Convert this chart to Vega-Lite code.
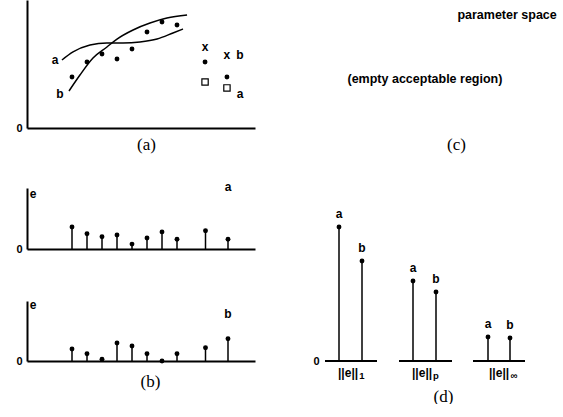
{
  "$schema": "https://vega.github.io/schema/vega-lite/v6.json",
  "background": "white",
  "padding": {"left": 15, "top": 0, "right": 0, "bottom": 0},
  "columns": 2,
  "bounds": "flush",
  "spacing": {"row": 52, "column": 70},
  "datasets": {
    "curves": [
      {"curve": "a", "t": 2.33, "v": 5.31}, {"curve": "a", "t": 3.07, "v": 5.94}, {"curve": "a", "t": 4.2, "v": 6.48},
      {"curve": "a", "t": 5.33, "v": 6.64}, {"curve": "a", "t": 6.4, "v": 6.64}, {"curve": "a", "t": 7.53, "v": 6.72},
      {"curve": "a", "t": 8.67, "v": 6.95}, {"curve": "a", "t": 9.73, "v": 7.42}, {"curve": "a", "t": 10.4, "v": 7.73},
      {"curve": "b", "t": 2.8, "v": 2.89}, {"curve": "b", "t": 3.53, "v": 4.14}, {"curve": "b", "t": 4.4, "v": 5.47},
      {"curve": "b", "t": 5.33, "v": 6.33}, {"curve": "b", "t": 6.0, "v": 6.95}, {"curve": "b", "t": 7.07, "v": 7.66},
      {"curve": "b", "t": 8.2, "v": 8.2}, {"curve": "b", "t": 9.33, "v": 8.59}, {"curve": "b", "t": 10.67, "v": 8.83}
    ],
    "fit": [
      {"t": 3, "v": 3.98}, {"t": 4, "v": 5.16}, {"t": 5, "v": 5.78}, {"t": 6, "v": 5.39},
      {"t": 7, "v": 6.17}, {"t": 8, "v": 7.5}, {"t": 9, "v": 8.28}, {"t": 10, "v": 8.05}
    ],
    "dotsA": [{"t": 11.87, "v": 5.16}, {"t": 13.33, "v": 3.98}],
    "squaresA": [{"t": 11.87, "v": 3.59}, {"t": 13.33, "v": 3.13}],
    "labelsA": [
      {"t": 1.87, "v": 5.31, "label": "a"}, {"t": 2.2, "v": 2.66, "label": "b"},
      {"t": 11.87, "v": 6.33, "label": "x"}, {"t": 13.33, "v": 5.7, "label": "x"},
      {"t": 14.2, "v": 5.7, "label": "b"}, {"t": 14.2, "v": 2.66, "label": "a"}
    ],
    "notesC": [
      {"x": 0.765, "y": 0.89, "label": "parameter space"},
      {"x": 0.42, "y": 0.419, "label": "(empty acceptable region)"}
    ],
    "errA": [
      {"t": 3, "e": 3.6}, {"t": 4, "e": 2.5}, {"t": 5, "e": 2.0}, {"t": 6, "e": 2.3}, {"t": 7, "e": 0.8},
      {"t": 8, "e": 1.8}, {"t": 9, "e": 2.8}, {"t": 10, "e": 1.6}, {"t": 11.9, "e": 3.0}, {"t": 13.4, "e": 1.6}
    ],
    "errB": [
      {"t": 3, "e": 2.0}, {"t": 4, "e": 1.2}, {"t": 5, "e": 0.3}, {"t": 6, "e": 3.0}, {"t": 7, "e": 2.5},
      {"t": 8, "e": 1.2}, {"t": 9, "e": 0.0}, {"t": 10, "e": 1.2}, {"t": 11.9, "e": 2.2}, {"t": 13.4, "e": 3.7}
    ],
    "labelsB1": [{"t": 0.4, "e": 9.0, "label": "e"}, {"t": 13.4, "e": 10.2, "label": "a"}],
    "labelsB2": [{"t": 0.4, "e": 9.3, "label": "e"}, {"t": 13.4, "e": 7.8, "label": "b"}],
    "norms": [
      {"x": 0.7, "n": 1.34, "label": "a"}, {"x": 1.85, "n": 1.0, "label": "b"},
      {"x": 4.4, "n": 0.8, "label": "a"}, {"x": 5.55, "n": 0.69, "label": "b"},
      {"x": 8.15, "n": 0.24, "label": "a"}, {"x": 9.25, "n": 0.23, "label": "b"}
    ],
    "normAxes": [{"x": 0, "x2": 2.6}, {"x": 3.7, "x2": 6.35}, {"x": 7.4, "x2": 10}],
    "normNames": [{"x": 0.65, "n": -0.12, "label": "||e||"}, {"x": 4.35, "n": -0.12, "label": "||e||"}, {"x": 8.2, "n": -0.12, "label": "||e||"}],
    "normSubs": [{"x": 1.85, "n": -0.145, "label": "1"}, {"x": 5.55, "n": -0.145, "label": "p"}, {"x": 9.45, "n": -0.15, "label": "∞"}]
  },
  "concat": [
    {
      "width": 228, "height": 128,
      "layer": [
        {
          "data": {"name": "curves"},
          "mark": {"type": "line", "interpolate": "monotone", "color": "black", "strokeWidth": 1.5},
          "encoding": {
            "x": {"field": "t", "type": "quantitative", "scale": {"domain": [0, 15.2], "nice": false, "zero": false},
                  "axis": {"title": "(a)", "labels": false, "titleX": 119, "titlePadding": 8}},
            "y": {"field": "v", "type": "quantitative", "scale": {"domain": [0, 10], "nice": false},
                  "axis": {"title": null, "values": [0], "labelPadding": 5, "labelFlush": false}},
            "detail": {"field": "curve", "type": "nominal"}
          }
        },
        {
          "data": {"name": "fit"},
          "mark": {"type": "point", "filled": true, "color": "black", "size": 24, "opacity": 1},
          "encoding": {"x": {"field": "t", "type": "quantitative"}, "y": {"field": "v", "type": "quantitative"}}
        },
        {
          "data": {"name": "dotsA"},
          "mark": {"type": "point", "filled": true, "color": "black", "size": 24, "opacity": 1},
          "encoding": {"x": {"field": "t", "type": "quantitative"}, "y": {"field": "v", "type": "quantitative"}}
        },
        {
          "data": {"name": "squaresA"},
          "mark": {"type": "point", "shape": "square", "filled": false, "color": "black", "size": 40, "strokeWidth": 1.2, "opacity": 1},
          "encoding": {"x": {"field": "t", "type": "quantitative"}, "y": {"field": "v", "type": "quantitative"}}
        },
        {
          "data": {"name": "labelsA"},
          "mark": {"type": "text", "baseline": "middle"},
          "encoding": {"x": {"field": "t", "type": "quantitative"}, "y": {"field": "v", "type": "quantitative"}, "text": {"field": "label"}}
        }
      ]
    },
    {
      "width": 238, "height": 136,
      "data": {"name": "notesC"},
      "mark": {"type": "text", "fontSize": 12.5, "baseline": "middle"},
      "encoding": {
        "x": {"field": "x", "type": "quantitative", "scale": {"domain": [0, 1], "nice": false},
              "axis": {"title": "(c)", "domain": false, "labels": false, "titleX": 131, "titlePadding": 0}},
        "y": {"field": "y", "type": "quantitative", "scale": {"domain": [0, 1], "nice": false}, "axis": null},
        "text": {"field": "label"}
      }
    },
    {
      "width": 228, "height": 61,
      "layer": [
        {
          "data": {"name": "errA"},
          "mark": {"type": "rule", "color": "black", "strokeWidth": 1.5},
          "encoding": {
            "x": {"field": "t", "type": "quantitative", "scale": {"domain": [0, 15.2], "nice": false, "zero": false},
                  "axis": {"title": null, "labels": false}},
            "y": {"field": "e", "type": "quantitative", "scale": {"domain": [0, 10], "nice": false},
                  "axis": {"title": null, "values": [0], "labelPadding": 5, "labelFlush": false}},
            "y2": {"datum": 0}
          }
        },
        {
          "data": {"name": "errA"},
          "mark": {"type": "point", "filled": true, "color": "black", "size": 24, "opacity": 1},
          "encoding": {"x": {"field": "t", "type": "quantitative"}, "y": {"field": "e", "type": "quantitative"}}
        },
        {
          "data": {"name": "labelsB1"},
          "mark": {"type": "text", "baseline": "middle"},
          "encoding": {"x": {"field": "t", "type": "quantitative"}, "y": {"field": "e", "type": "quantitative"}, "text": {"field": "label"}}
        }
      ]
    },
    {
      "width": 200, "height": 61,
      "data": {"values": []},
      "mark": "point",
      "encoding": {}
    },
    {
      "width": 228, "height": 60,
      "layer": [
        {
          "data": {"name": "errB"},
          "mark": {"type": "rule", "color": "black", "strokeWidth": 1.5},
          "encoding": {
            "x": {"field": "t", "type": "quantitative", "scale": {"domain": [0, 15.2], "nice": false, "zero": false},
                  "axis": {"title": "(b)", "labels": false, "titleX": 123, "titlePadding": 12}},
            "y": {"field": "e", "type": "quantitative", "scale": {"domain": [0, 10], "nice": false},
                  "axis": {"title": null, "values": [0], "labelPadding": 5, "labelFlush": false}},
            "y2": {"datum": 0}
          }
        },
        {
          "data": {"name": "errB"},
          "mark": {"type": "point", "filled": true, "color": "black", "size": 24, "opacity": 1},
          "encoding": {"x": {"field": "t", "type": "quantitative"}, "y": {"field": "e", "type": "quantitative"}}
        },
        {
          "data": {"name": "labelsB2"},
          "mark": {"type": "text", "baseline": "middle"},
          "encoding": {"x": {"field": "t", "type": "quantitative"}, "y": {"field": "e", "type": "quantitative"}, "text": {"field": "label"}}
        }
      ]
    },
    {
      "width": 200, "height": 60,
      "layer": [
        {
          "data": {"name": "norms"},
          "mark": {"type": "rule", "color": "black", "strokeWidth": 1.5},
          "encoding": {
            "x": {"field": "x", "type": "quantitative", "scale": {"domain": [0, 10], "nice": false, "zero": false},
                  "axis": {"title": "(d)", "domain": false, "labels": false, "titleX": 118, "titlePadding": 27}},
            "y": {"field": "n", "type": "quantitative", "scale": {"domain": [0, 0.6], "nice": false},
                  "axis": {"title": null, "values": [0], "format": "d", "domain": false, "labelPadding": 6, "labelFlush": false}},
            "y2": {"datum": 0}
          }
        },
        {
          "data": {"name": "normAxes"},
          "mark": {"type": "rule", "color": "black", "strokeWidth": 2},
          "encoding": {
            "x": {"field": "x", "type": "quantitative"},
            "x2": {"field": "x2"},
            "y": {"datum": 0, "type": "quantitative"}
          }
        },
        {
          "data": {"name": "norms"},
          "mark": {"type": "point", "filled": true, "color": "black", "size": 24, "opacity": 1},
          "encoding": {"x": {"field": "x", "type": "quantitative"}, "y": {"field": "n", "type": "quantitative"}}
        },
        {
          "data": {"name": "norms"},
          "mark": {"type": "text", "baseline": "middle", "dy": -13},
          "encoding": {"x": {"field": "x", "type": "quantitative"}, "y": {"field": "n", "type": "quantitative"}, "text": {"field": "label"}}
        },
        {
          "data": {"name": "normNames"},
          "mark": {"type": "text", "baseline": "middle", "align": "left"},
          "encoding": {"x": {"field": "x", "type": "quantitative"}, "y": {"field": "n", "type": "quantitative"}, "text": {"field": "label"}}
        },
        {
          "data": {"name": "normSubs"},
          "mark": {"type": "text", "baseline": "middle", "align": "center", "fontSize": 9.5},
          "encoding": {"x": {"field": "x", "type": "quantitative"}, "y": {"field": "n", "type": "quantitative"}, "text": {"field": "label"}}
        }
      ]
    }
  ],
  "config": {
    "view": {"stroke": null},
    "axis": {
      "domainColor": "black", "domainWidth": 2, "labelColor": "black", "labelFont": "Liberation Sans",
      "labelFontWeight": "bold", "labelFontSize": 11, "ticks": false, "grid": false,
      "titleFont": "Liberation Serif", "titleFontWeight": "normal", "titleFontSize": 17, "titleColor": "black"
    },
    "text": {"font": "Liberation Sans", "fontWeight": "bold", "fontSize": 12, "color": "black"}
  }
}
